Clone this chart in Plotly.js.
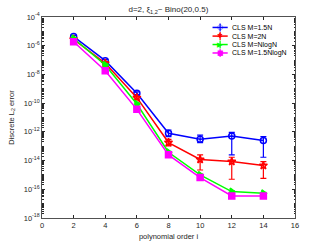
<!DOCTYPE html>
<html>
<head>
<meta charset="utf-8">
<script src="https://cdn.plot.ly/plotly-3.0.1.min.js"></script>
<style>html,body{margin:0;padding:0;background:#fff;}#chart{width:327px;height:245px;}</style>
</head>
<body>
<div id="chart"></div>
<script>
const orders = [2, 4, 6, 8, 10, 12, 14];
const seriesNames = ['CLS M=1.5N', 'CLS M=2N', 'CLS M=NlogN', 'CLS M=1.5NlogN'];

const err15N = [4.3e-6, 9.1e-8, 4.9e-10, 7.9e-13, 3.0e-13, 5.1e-13, 2.5e-13];
const err15NUpper = [5.3e-6, 1.1e-7, 6.0e-10, 1.35e-12, 6.0e-13, 9.3e-13, 4.7e-13];
const err15NLower = [3.4e-6, 7.2e-8, 3.9e-10, 4.6e-13, 1.8e-13, 2.5e-14, 1.7e-14];

const err2N = [2.8e-6, 6.0e-8, 2.4e-10, 1.8e-13, 1.2e-14, 8.5e-15, 4.5e-15];
const err2NUpper = [3.4e-6, 7.4e-8, 3.0e-10, 3.0e-13, 2.5e-14, 1.7e-14, 8.5e-15];
const err2NLower = [2.2e-6, 4.8e-8, 1.9e-10, 1.05e-13, 2.2e-15, 5.0e-16, 5.8e-16];

const errNlogN = [3.2e-6, 4.6e-8, 8.7e-11, 3.8e-14, 1.0e-15, 6.9e-17, 5.2e-17];
const errNlogNUpper = [3.7e-6, 5.3e-8, 1.0e-10, 4.4e-14, 1.15e-15, 7.9e-17, 6.0e-17];
const errNlogNLower = [2.8e-6, 4.0e-8, 7.6e-11, 3.3e-14, 8.7e-16, 6.0e-17, 4.5e-17];

const err15NlogN = [1.9e-6, 1.8e-8, 3.7e-11, 2.5e-14, 6.5e-16, 3.4e-17, 3.4e-17];
const err15NlogNUpper = [2.2e-6, 2.1e-8, 4.3e-11, 2.9e-14, 7.5e-16, 3.9e-17, 3.9e-17];
const err15NlogNLower = [1.65e-6, 1.55e-8, 3.2e-11, 2.2e-14, 5.6e-16, 2.95e-17, 2.95e-17];

const yTickVals = [1e-18, 1e-16, 1e-14, 1e-12, 1e-10, 1e-8, 1e-6, 1e-4];
const yTickText = ['10<sup>-18</sup>', '10<sup>-16</sup>', '10<sup>-14</sup>', '10<sup>-12</sup>', '10<sup>-10</sup>', '10<sup>-8</sup>', '10<sup>-6</sup>', '10<sup>-4</sup>'];
const xTickVals = [0, 2, 4, 6, 8, 10, 12, 14, 16];

const colors = ['#0000ff', '#ff0000', '#00ff00', '#ff00ff'];
const symbols = ['circle-open', 'star-open', 'triangle-right', 'square'];
const legendGlyphs = ['○', '✱', '▶', '■'];

function mk(i, y, up, lo) {
  return {
    x: orders, y: y, name: seriesNames[i], type: 'scatter', mode: 'lines+markers',
    showlegend: false,
    line: {color: colors[i], width: 1.5},
    marker: {symbol: symbols[i], size: 6, color: colors[i], line: {color: colors[i], width: 1.5}},
    error_y: {type: 'data', symmetric: false,
      array: up.map((u, k) => u - y[k]),
      arrayminus: lo.map((l, k) => y[k] - l),
      color: colors[i], thickness: 1.2, width: 3}
  };
}

const data = [
  mk(0, err15N, err15NUpper, err15NLower),
  mk(1, err2N, err2NUpper, err2NLower),
  mk(2, errNlogN, errNlogNUpper, errNlogNLower),
  mk(3, err15NlogN, err15NlogNUpper, err15NlogNLower)
];

const fam = 'Liberation Sans, Arial, sans-serif';
const ink = '#262626';

// Compact legend (MATLAB style) built from annotations and shapes in paper coordinates
const legRowY = [0.948, 0.905, 0.863, 0.821];
const legGlyphX = 0.704, legHalf = 0.03, legTextX = 0.745;
const shapes = [], annotations = [];
seriesNames.forEach((nm, i) => {
  shapes.push({type: 'line', xref: 'paper', yref: 'paper', x0: legGlyphX - legHalf, x1: legGlyphX + legHalf,
    y0: legRowY[i], y1: legRowY[i], line: {color: colors[i], width: 1.5}});
  shapes.push({type: 'line', xref: 'paper', yref: 'paper', x0: legGlyphX, x1: legGlyphX,
    y0: legRowY[i] - 0.02, y1: legRowY[i] + 0.02, line: {color: colors[i], width: 1.2}});
  annotations.push({xref: 'paper', yref: 'paper', x: legGlyphX, y: legRowY[i], xanchor: 'center', yanchor: 'middle',
    text: legendGlyphs[i], showarrow: false, font: {family: 'DejaVu Sans', size: 7, color: colors[i]}});
  annotations.push({xref: 'paper', yref: 'paper', x: legTextX, y: legRowY[i], xanchor: 'left', yanchor: 'middle',
    text: nm, showarrow: false, font: {family: fam, size: 7, color: '#000'}});
});

const layout = {
  width: 327, height: 245,
  margin: {l: 42, r: 32, t: 17, b: 27, pad: 0},
  paper_bgcolor: '#ffffff', plot_bgcolor: '#ffffff',
  font: {family: fam, size: 7, color: ink},
  showlegend: false,
  shapes: shapes,
  annotations: annotations,
  title: {text: 'd=2, ξ<sub>1,2</sub>~ Bino(20,0.5)', font: {family: fam, size: 8, color: ink}, x: 0.515, xanchor: 'center', y: 0.962, yanchor: 'middle'},
  xaxis: {
    range: [0, 16], tickvals: xTickVals, ticktext: xTickVals.map(String),
    ticks: 'inside', ticklen: 3, tickcolor: ink, showgrid: false, zeroline: false,
    showline: true, linecolor: ink, linewidth: 0.8, mirror: 'ticks',
    tickfont: {family: fam, size: 7.5, color: ink},
    title: {text: 'polynomial order i', font: {family: fam, size: 7.5, color: ink}, standoff: 4}
  },
  yaxis: {
    type: 'log', range: [-18, -4], tickvals: yTickVals, ticktext: yTickText,
    ticks: 'inside', ticklen: 3, tickcolor: ink, showgrid: false, zeroline: false,
    showline: true, linecolor: ink, linewidth: 0.8, mirror: 'ticks',
    tickfont: {family: fam, size: 7.5, color: ink},
    minor: {ticks: 'inside', ticklen: 1.5, tickcolor: ink, dtick: 'D1', showgrid: false},
    title: {text: 'Discrete L<sub>2</sub> error', font: {family: fam, size: 7.5, color: ink}, standoff: 8}
  }
};

Plotly.newPlot('chart', data, layout, {staticPlot: true, displayModeBar: false});
</script>
</body>
</html>
